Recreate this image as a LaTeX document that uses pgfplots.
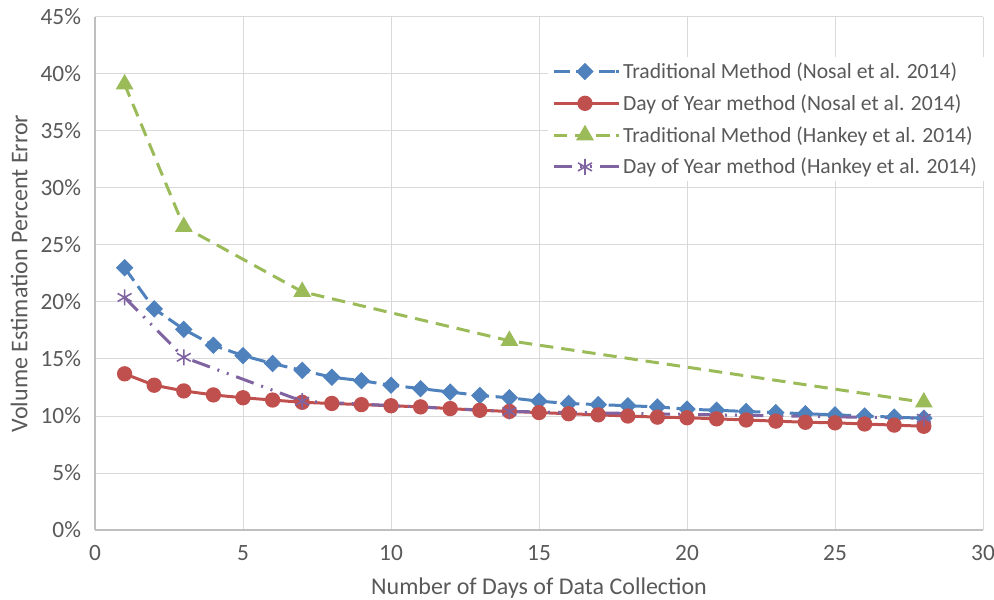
\documentclass[border=0pt]{standalone}
\usepackage{fontspec}
\setmainfont{Carlito}
\usepackage{pgfplots}
\pgfplotsset{compat=1.18}
\definecolor{tblue}{HTML}{4F81BD}
\definecolor{tred}{HTML}{C0504D}
\definecolor{tgreen}{HTML}{9BBB59}
\definecolor{tpurple}{HTML}{8064A2}
\definecolor{textc}{HTML}{595959}
\definecolor{gridc}{HTML}{D9D9D9}
\definecolor{axisc}{HTML}{BFBFBF}

\pgfplotstableread{
day val
1 23.0
2 19.4
3 17.6
4 16.2
5 15.3
6 14.6
7 14.0
8 13.4
9 13.1
10 12.7
11 12.4
12 12.1
13 11.8
14 11.6
15 11.3
16 11.1
17 11.0
18 10.9
19 10.8
20 10.6
21 10.5
22 10.4
23 10.3
24 10.2
25 10.1
26 10.0
27 9.9
28 9.8
}\tradnosal

\pgfplotstableread{
day val
1 13.7
2 12.7
3 12.2
4 11.85
5 11.6
6 11.4
7 11.2
8 11.1
9 11.0
10 10.9
11 10.8
12 10.65
13 10.5
14 10.4
15 10.3
16 10.2
17 10.1
18 10.0
19 9.9
20 9.85
21 9.75
22 9.65
23 9.55
24 9.45
25 9.4
26 9.3
27 9.2
28 9.1
}\doynosal

\pgfplotstableread{
day val
1 39.1
3 26.6
7 20.9
14 16.6
28 11.2
}\tradhankey

\pgfplotstableread{
day val
1 20.4
3 15.15
7 11.3
14 10.4
28 9.8
}\doyhankey

\begin{document}
\begin{tikzpicture}
\path[use as bounding box] (-71.25pt,-51.75pt) rectangle (674.25pt,397.5pt);
\begin{axis}[
  scale only axis, width=666pt, height=384.75pt,
  xmin=0, xmax=30, ymin=0, ymax=45,
  xtick={0,5,...,30}, ytick={0,5,...,45},
  yticklabel={\pgfmathprintnumber{\tick}\%},
  /pgf/number format/assume math mode=true,
  grid=major, major grid style={draw=gridc, line width=0.75pt},
  axis x line*=bottom, axis y line*=left,
  axis line style={draw=axisc, line width=1pt, -},
  major tick length=0pt,
  tick label style={font=\fontsize{17.5}{21}\selectfont, text=textc},
  xticklabel style={yshift=-8pt},
  yticklabel style={xshift=-7pt},
  label style={font=\fontsize{18}{21}\selectfont, text=textc},
  xlabel style={yshift=-6pt},
  ylabel style={yshift=3pt},
  xlabel={Number of Days of Data Collection},
  ylabel={Volume Estimation Percent Error},
  legend style={at={(0.51,0.922)}, anchor=north west, draw=none, fill=white,
    font=\fontsize{16.2}{19}\selectfont, text=textc, row sep=6.5pt,
    /tikz/every even column/.append style={column sep=0pt}},
  legend cell align=left,
  legend image code/.code={%
    \draw[mark repeat=2, mark phase=2, #1] plot coordinates {(0pt,0pt) (23.5pt,0pt) (47pt,0pt)};
    \path (47pt,0pt) -- (49pt,0pt);},
]
\addplot[tblue, line width=2.25pt, dash pattern=on 12pt off 5pt, mark=square*,
  mark options={solid, rotate=45, scale=1}, mark size=3.5pt] table[x=day, y=val] {\tradnosal};
\addlegendentry{Traditional Method (Nosal et al. 2014)}
\addplot[tred, line width=2.25pt, mark=*, mark size=4.6pt] table[x=day, y=val] {\doynosal};
\addlegendentry{Day of Year method (Nosal et al. 2014)}
\addplot[tgreen, line width=2.25pt, dash pattern=on 10pt off 6pt, mark=triangle*,
  mark options={solid}, mark size=5.5pt] table[x=day, y=val] {\tradhankey};
\addlegendentry{Traditional Method (Hankey et al. 2014)}
\addplot[tpurple, line width=2.25pt, dash pattern=on 14pt off 6pt on 1.5pt off 6pt on 1.5pt off 6pt,
  mark=asterisk, mark options={solid, line width=1.2pt}, mark size=6pt] table[x=day, y=val] {\doyhankey};
\addlegendentry{Day of Year method (Hankey et al. 2014)}
\end{axis}
\end{tikzpicture}
\end{document}
